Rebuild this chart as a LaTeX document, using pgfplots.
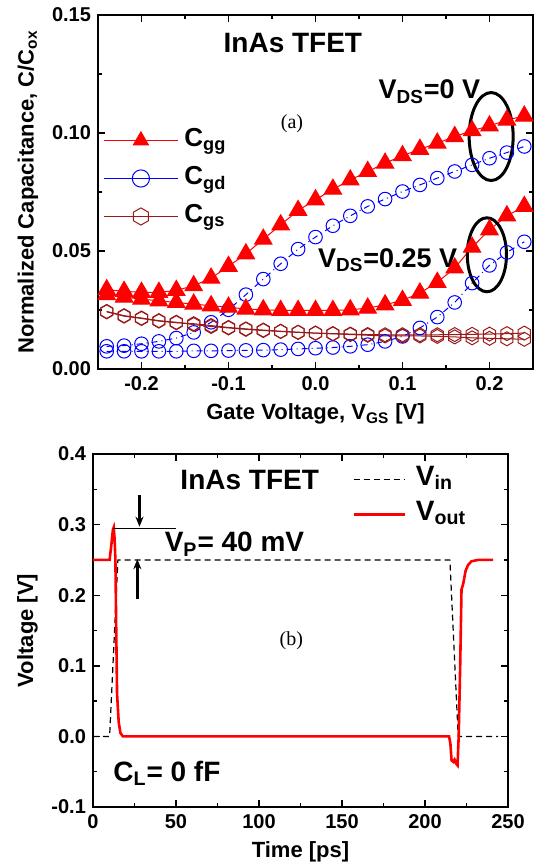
\documentclass[border=0pt]{standalone}
\usepackage{fontspec}
\setmainfont{Liberation Sans}
\newfontfamily\timesfont{Liberation Serif}
\usepackage{pgfplots}
\pgfplotsset{compat=1.18}
\usetikzlibrary{arrows.meta}

\pgfdeclareplotmark{hexagon}{%
  \pgfpathmoveto{\pgfqpointpolar{90}{\pgfplotmarksize}}%
  \pgfpathlineto{\pgfqpointpolar{150}{\pgfplotmarksize}}%
  \pgfpathlineto{\pgfqpointpolar{210}{\pgfplotmarksize}}%
  \pgfpathlineto{\pgfqpointpolar{270}{\pgfplotmarksize}}%
  \pgfpathlineto{\pgfqpointpolar{330}{\pgfplotmarksize}}%
  \pgfpathlineto{\pgfqpointpolar{30}{\pgfplotmarksize}}%
  \pgfpathclose
  \pgfusepathqstroke}

\definecolor{cgscol}{rgb}{0.6,0.1,0.1}

\pgfplotsset{
  origin/.style={
    scale only axis,
    tick align=inside, tick pos=both, ticklabel pos=left,
    major tick length=3.5pt, minor tick length=2pt,
    axis line style={line width=0.8pt}, every tick/.style={line width=0.7pt,black},
    /pgf/number format/assume math mode=true,
    tick label style={font=\bfseries\fontsize{10}{12}\selectfont},
    label style={font=\bfseries\fontsize{11}{13}\selectfont},
  },
}

\begin{document}
\begin{tikzpicture}
\useasboundingbox (0,0) rectangle (275.5pt,432pt);

% (a) capacitances
\begin{axis}[origin,
  at={(49pt,247.5pt)}, anchor=south west,
  width=217.5pt, height=177pt,
  xmin=-0.25, xmax=0.25, ymin=0, ymax=0.15,
  xtick={-0.2,-0.1,0,0.1,0.2}, minor x tick num=1,
  ytick={0,0.05,0.1,0.15}, minor y tick num=1,
  xticklabel style={/pgf/number format/.cd,fixed,fixed zerofill,precision=1},
  yticklabel style={/pgf/number format/.cd,fixed,fixed zerofill,precision=2},
  xlabel={Gate Voltage, V\textsubscript{GS} [V]},
  ylabel={Normalized Capacitance, C/C\textsubscript{ox}},
  legend style={draw=none, fill=none, inner sep=0pt, at={(0.0115,0.689)}, anchor=north west,
    font=\bfseries\fontsize{13}{15}\selectfont, row sep=4pt, column sep=2pt,
    nodes={inner sep=1pt, text height=9.5pt, text depth=3.5pt},
    cells={anchor=west}},
  legend image code/.code={\draw[solid] (0pt,0pt) -- (37pt,0pt);
    \draw[mark size=4.3pt] plot coordinates {(18.5pt,0pt)};},
]
\addplot[red, line width=0.5pt, mark=triangle*, mark size=5pt, mark options={solid,fill=red}]
  coordinates {(-0.24,0.0336)(-0.22,0.0329)(-0.20,0.0325)(-0.18,0.0325)(-0.16,0.0333)(-0.14,0.0353)(-0.12,0.0385)(-0.10,0.0435)(-0.08,0.0488)(-0.06,0.0550)(-0.04,0.0611)(-0.02,0.0672)(0.00,0.0717)(0.02,0.0762)(0.04,0.0801)(0.06,0.0837)(0.08,0.0872)(0.10,0.0904)(0.12,0.0931)(0.14,0.0957)(0.16,0.0985)(0.18,0.1010)(0.20,0.1030)(0.22,0.1055)(0.24,0.1072)};
\addlegendentry{C\textsubscript{gg}}
\addplot[blue, line width=0.5pt, dash dot, mark=o, mark size=3.4pt, mark options={solid}]
  coordinates {(-0.24,0.0096)(-0.22,0.0099)(-0.20,0.0107)(-0.18,0.0117)(-0.16,0.0131)(-0.14,0.0155)(-0.12,0.0198)(-0.10,0.0251)(-0.08,0.0315)(-0.06,0.0381)(-0.04,0.0446)(-0.02,0.0508)(0.00,0.0559)(0.02,0.0607)(0.04,0.0649)(0.06,0.0689)(0.08,0.0720)(0.10,0.0752)(0.12,0.0780)(0.14,0.0809)(0.16,0.0837)(0.18,0.0865)(0.20,0.0893)(0.22,0.0917)(0.24,0.0943)};
\addlegendentry{C\textsubscript{gd}}
\addplot[cgscol, line width=0.5pt, mark=hexagon, mark size=3.5pt, mark options={solid}]
  coordinates {(-0.24,0.0244)(-0.22,0.0226)(-0.20,0.0216)(-0.18,0.0205)(-0.16,0.0198)(-0.14,0.0188)(-0.12,0.0180)(-0.10,0.0174)(-0.08,0.0168)(-0.06,0.0163)(-0.04,0.0159)(-0.02,0.0155)(0.00,0.0152)(0.02,0.0150)(0.04,0.0148)(0.06,0.0146)(0.08,0.0145)(0.10,0.0145)(0.12,0.0145)(0.14,0.0145)(0.16,0.0146)(0.18,0.0147)(0.20,0.0148)(0.22,0.0150)(0.24,0.0152)};
\addlegendentry{C\textsubscript{gs}}
\addplot[forget plot, red, line width=0.5pt, mark=triangle*, mark size=5pt, mark options={solid,fill=red}]
  coordinates {(-0.24,0.0315)(-0.22,0.0305)(-0.20,0.0296)(-0.18,0.0289)(-0.16,0.0282)(-0.14,0.0275)(-0.12,0.0268)(-0.10,0.0262)(-0.08,0.0254)(-0.06,0.0251)(-0.04,0.0248)(-0.02,0.0248)(0.00,0.0248)(0.02,0.0248)(0.04,0.0251)(0.06,0.0258)(0.08,0.0272)(0.10,0.0291)(0.12,0.0322)(0.14,0.0367)(0.16,0.0428)(0.18,0.0516)(0.20,0.0590)(0.22,0.0649)(0.24,0.0689)};
\addplot[forget plot, blue, line width=0.5pt, dash dot, mark=o, mark size=3.4pt, mark options={solid}]
  coordinates {(-0.24,0.0075)(-0.22,0.0075)(-0.20,0.0075)(-0.18,0.0075)(-0.16,0.0075)(-0.14,0.0077)(-0.12,0.0077)(-0.10,0.0078)(-0.08,0.0079)(-0.06,0.0080)(-0.04,0.0082)(-0.02,0.0085)(0.00,0.0088)(0.02,0.0091)(0.04,0.0096)(0.06,0.0103)(0.08,0.0117)(0.10,0.0138)(0.12,0.0174)(0.14,0.0220)(0.16,0.0282)(0.18,0.0364)(0.20,0.0439)(0.22,0.0494)(0.24,0.0539)};
\addplot[forget plot, cgscol, line width=0.5pt, mark=hexagon, mark size=3.5pt, mark options={solid}]
  coordinates {(-0.24,0.0242)(-0.22,0.0224)(-0.20,0.0214)(-0.18,0.0203)(-0.16,0.0196)(-0.14,0.0192)(-0.12,0.0184)(-0.10,0.0176)(-0.08,0.0170)(-0.06,0.0165)(-0.04,0.0160)(-0.02,0.0156)(0.00,0.0152)(0.02,0.0149)(0.04,0.0146)(0.06,0.0143)(0.08,0.0140)(0.10,0.0140)(0.12,0.0140)(0.14,0.0138)(0.16,0.0136)(0.18,0.0132)(0.20,0.0130)(0.22,0.0128)(0.24,0.0126)};

\node[font=\bfseries\fontsize{14}{16}\selectfont] at (axis cs:-0.026,0.138) {InAs TFET};
\node[font=\bfseries\fontsize{13.5}{16}\selectfont] at (axis cs:0.131,0.1175) {V\textsubscript{DS}=0 V};
\node[font=\bfseries\fontsize{13.5}{16}\selectfont] at (axis cs:0.083,0.0462) {V\textsubscript{DS}=0.25 V};
\node[font=\timesfont\fontsize{10}{12}\selectfont] at (axis cs:-0.027,0.104) {(a)};
\draw[line width=1.5pt] (axis cs:0.2019,0.0985) ellipse [x radius=11pt, y radius=22pt];
\draw[line width=1.5pt] (axis cs:0.197,0.0484) ellipse [x radius=9.8pt, y radius=18.5pt];
\end{axis}

% (b) transient
\begin{axis}[origin,
  at={(46.5pt,28.5pt)}, anchor=south west,
  width=207.5pt, height=176.5pt,
  xmin=0, xmax=250, ymin=-0.1, ymax=0.4,
  xtick={0,50,100,150,200,250}, minor x tick num=1,
  ytick={-0.1,0,0.1,0.2,0.3,0.4}, minor y tick num=1,
  yticklabel style={/pgf/number format/.cd,fixed,fixed zerofill,precision=1},
  xlabel={Time [ps]}, ylabel={Voltage [V]},
  legend style={draw=none, fill=none, inner sep=0pt, at={(0.624,0.9745)}, anchor=north west,
    font=\bfseries\fontsize{14}{16}\selectfont, row sep=1.5pt, column sep=4pt,
    nodes={inner sep=1pt, text height=10pt, text depth=4pt},
    cells={anchor=west}},
  legend image code/.code={\draw (0pt,0pt) -- (25.5pt,0pt);},
]
\addplot[black, line width=0.6pt, dash pattern=on 3pt off 2pt]
  coordinates {(0,0)(10,0)(15,0.25)(215,0.25)(220,0)(244,0)};
\addlegendentry{V\textsubscript{in}}
\addplot[red, line width=1.3pt]
  coordinates {(0,0.25)(10,0.25)(11,0.27)(12,0.293)(12.5,0.296)(13,0.28)(13.5,0.25)(14,0.15)(14.5,0.06)(15.5,0.02)(16.5,0.005)(18,0)(214.5,0)(215.3,-0.01)(216,-0.034)(217,-0.036)(217.8,-0.033)(218.6,-0.038)(219.6,-0.041)(220.3,0)(221.2,0.1)(222,0.208)(223,0.216)(224.5,0.235)(226,0.243)(228,0.248)(232,0.25)(241,0.25)};
\addlegendentry{V\textsubscript{out}}

\draw[line width=0.6pt] (axis cs:12,0.295) -- (axis cs:50,0.295);
\draw[line width=1.2pt, -{Stealth[length=5pt,width=4pt]}] (axis cs:28,0.342) -- (axis cs:28,0.297);
\draw[line width=1.2pt, -{Stealth[length=5pt,width=4pt]}] (axis cs:26.7,0.194) -- (axis cs:26.7,0.251);
\node[font=\bfseries\fontsize{14}{16}\selectfont] at (axis cs:94.4,0.363) {InAs TFET};
\node[font=\bfseries\fontsize{14}{16}\selectfont, anchor=west, inner sep=0pt] at (axis cs:43,0.272) {V\textsubscript{P}= 40 mV};
\node[font=\bfseries\fontsize{14}{16}\selectfont, anchor=west, inner sep=0pt] at (axis cs:12,-0.052) {C\textsubscript{L}= 0 fF};
\node[font=\timesfont\fontsize{10}{12}\selectfont] at (axis cs:119.5,0.136) {(b)};
\end{axis}
\end{tikzpicture}
\end{document}
